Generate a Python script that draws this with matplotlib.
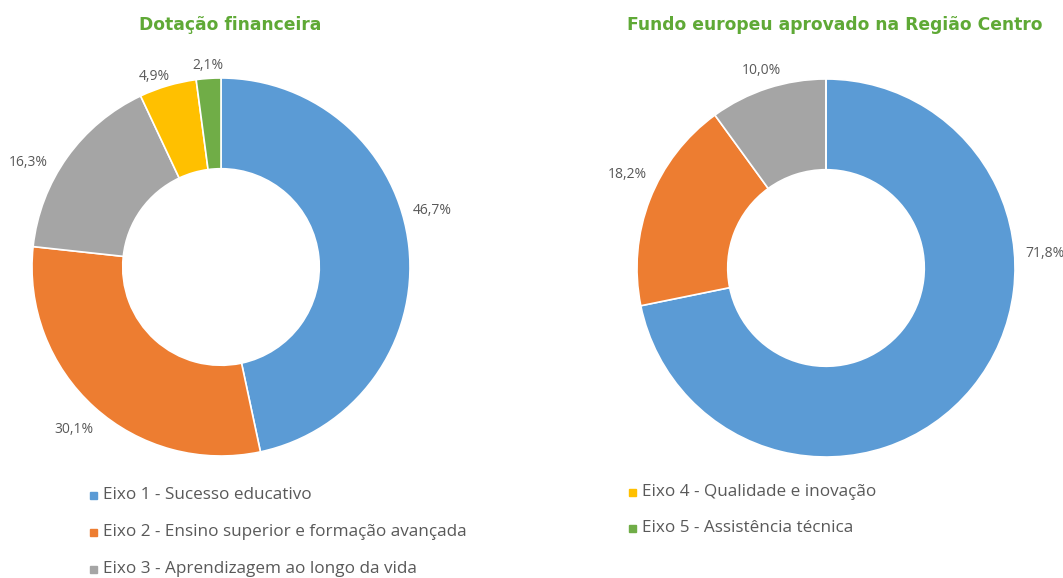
import matplotlib

matplotlib.use("Agg")
import matplotlib.pyplot as plt
import numpy as np
from matplotlib.patches import Rectangle

# categories shared by both donuts
categories = [
    "Eixo 1 - Sucesso educativo",
    "Eixo 2 - Ensino superior e formação avançada",
    "Eixo 3 - Aprendizagem ao longo da vida",
    "Eixo 4 - Qualidade e inovação",
    "Eixo 5 - Assistência técnica",
]
dotacao = [46.7, 30.1, 16.3, 4.9, 2.1]
fundo_aprovado = [71.8, 18.2, 10.0, 0.0, 0.0]
titles = ["Dotação financeira", "Fundo europeu aprovado na Região Centro"]

COLORS = ["#5b9bd5", "#ed7d31", "#a5a5a5", "#ffc000", "#70ad47"]
GREEN = "#5fa936"
TEXT = "#595959"
W, H = 1063, 578

plt.rcParams["font.family"] = ["Open Sans", "DejaVu Sans"]

fig = plt.figure(figsize=(W / 100, H / 100), dpi=100)
fig.patch.set_facecolor("white")


def px_axes(cx, cy, r):
    """Axes box in figure fraction for a donut centred at pixel (cx, cy)."""
    return [(cx - r) / W, (H - cy - r) / H, 2 * r / W, 2 * r / H]


def donut(cx, cy, values, title, nudges):
    ax = fig.add_axes(px_axes(cx, cy, 189))
    wedges, _ = ax.pie(
        values,
        colors=COLORS,
        startangle=90,
        counterclock=False,
        radius=1.0,
        wedgeprops=dict(width=0.48, edgecolor="white", linewidth=1.2),
    )
    ax.set_xlim(-1, 1)
    ax.set_ylim(-1, 1)
    ax.set_aspect("equal")
    ax.axis("off")
    for w, v, dn in zip(wedges, values, nudges):
        if v <= 0:
            continue
        mid = np.deg2rad((w.theta1 + w.theta2) / 2 + dn)
        # small slices sit closer to the ring
        r = 1.16 if v > 15 else (1.1 if v > 8 else 1.07)
        ax.text(
            r * np.cos(mid), r * np.sin(mid),
            f"{v:.1f}".replace(".", ",") + "%",
            ha="center", va="center", fontsize=10, color=TEXT,
            clip_on=False,
        )
    fig.text(
        (cx + 9) / W, 1 - 25 / H, title,
        ha="center", va="center", fontsize=12.3, fontweight="bold",
        color=GREEN, family=["DejaVu Sans"],
    )


donut(221, 267, dotacao, titles[0], [9, 0, 7, 3, 0])
donut(826, 268, fundo_aprovado, titles[1], [43, -4, 0, 0, 0])

# legend, two columns
legend_pos = [(90, 495), (90, 532), (90, 569), (629, 492), (629, 528)]
for (x, y), label, col in zip(legend_pos, categories, COLORS):
    fig.patches.append(
        Rectangle(((x) / W, (H - y - 3.5) / H), 7 / W, 7 / H,
                  transform=fig.transFigure, color=col, figure=fig)
    )
    fig.text((x + 13) / W, 1 - y / H, label, ha="left", va="center",
             fontsize=12.3, color=TEXT)

fig.savefig("out.png", dpi=100, facecolor="white")
